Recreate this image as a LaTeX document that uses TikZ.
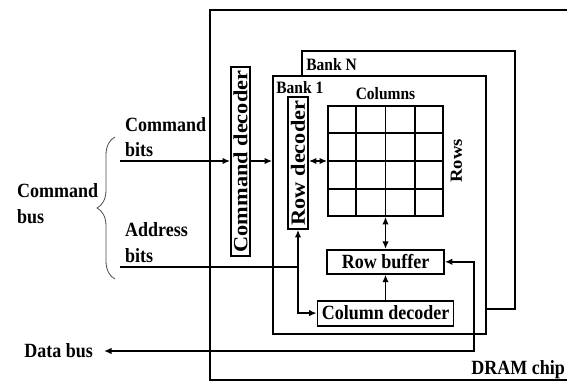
\documentclass[tikz,border=0pt]{standalone}
\usepackage{fontspec}
\setmainfont{Liberation Serif}
\usepackage{graphicx}
\usetikzlibrary{positioning,arrows.meta,calc,decorations.pathreplacing}
\newcommand{\chipfont}{\fontsize{18}{25.5}\selectfont\bfseries}
\newcommand{\bankfont}{\fontsize{15.5}{18}\selectfont\bfseries}
\newcommand{\tall}[1]{\scalebox{1}[1.12]{#1}}
\newcommand{\vstretch}[1]{\scalebox{1.24}[1.12]{#1}}
\tikzset{
  box/.style={draw, line width=1.8pt, inner sep=0pt, font=\chipfont},
  bank/.style={box, fill=white, minimum width=213pt, minimum height=258pt},
  lbl/.style={inner sep=0pt, align=left, font=\chipfont},
  sublbl/.style={inner sep=0pt, font=\bankfont},
  edge/.style={-{Latex[length=7.5pt,width=6.5pt]}, line width=1.8pt},
  biedge/.style={{Latex[length=7.5pt,width=6.5pt]}-{Latex[length=7.5pt,width=6.5pt]}, line width=1.8pt},
}
\begin{document}
\begin{tikzpicture}[x=1pt, y=-1pt]
  \useasboundingbox (0,0) rectangle (567,382);
  % chip outline (runs off the right edge)
  \node[box, minimum width=370pt, minimum height=370pt] (chip) at (395,195) {};
  \node[font=\chipfont, inner sep=0pt, anchor=base east] (chiplbl) at (565,374) {\tall{DRAM chip}};
  % banks
  \node[bank] (bankN) at (408.5,180) {};
  \node[bank] (bank1) at (379.5,205) {};
  \node[sublbl, below right=8.5pt and 5pt of bankN.north west] (bankNlbl) {\tall{Bank N}};
  \node[sublbl, below right=6.5pt and 4pt of bank1.north west] (bank1lbl) {\tall{Bank 1}};
  % decoders and array
  \node[box, minimum width=19pt, minimum height=189pt] (cmddec) at (240.5,161.5) {\rotatebox{90}{\vstretch{Command decoder}}};
  \node[box, minimum width=20pt, minimum height=132pt] (rowdec) at (298,163) {\rotatebox{90}{\vstretch{Row decoder}}};
  \node[box, minimum width=115pt, minimum height=110pt] (grid) at (385.5,161) {};
  \foreach \i in {1,2,3} {
    \draw[line width=1.8pt] ($(grid.north west)!\i/4!(grid.north east)$) -- ($(grid.south west)!\i/4!(grid.south east)$);
    \draw[line width=1.8pt] ($(grid.north west)!\i/4!(grid.south west)$) -- ($(grid.north east)!\i/4!(grid.south east)$);
  }
  \node[sublbl, above=5pt of grid] (colslbl) {\tall{Columns}};
  \node[sublbl, right=6.5pt of grid] (rowslbl) {\rotatebox{90}{\scalebox{1.2}[1.1]{Rows}}};
  \node[box, minimum width=117pt, minimum height=24pt, below=32pt of grid] (rowbuf) {\tall{Row buffer}};
  \node[box, minimum width=136pt, minimum height=25pt, below=25pt of rowbuf] (coldec) {\tall{Column decoder}};
  % bus labels
  \node[lbl, anchor=north west] (cmdbits) at (125,117) {\tall{Command}\\\tall{bits}};
  \node[lbl, anchor=north west] (addrbits) at (125,222.5) {\tall{Address}\\\tall{bits}};
  \node[lbl, anchor=north west] (cmdbus) at (17,183.5) {\tall{Command}\\\tall{bus}};
  \node[lbl, anchor=east, inner xsep=11pt] (databus) at (104,351) {\tall{Data bus}};
  \coordinate (bracetop) at (115,137);
  \coordinate (bracebot) at (115,279);
  \draw[line width=0.8pt, black!70, decorate, decoration={brace, amplitude=18pt}] (bracebot) -- (bracetop);
  % connectors
  \coordinate (cbin) at (120,161);
  \coordinate (abin) at (120,267);
  \coordinate (dbturn) at (474,351);
  \draw[edge] (cbin) -- (cbin -| cmddec.west);
  \draw[edge] (cbin -| cmddec.east) -- (cbin -| bank1.west);
  \draw[biedge] (grid.west -| rowdec.east) -- (grid.west);
  \draw[biedge] (grid.south) -- (rowbuf.north);
  \draw[edge] (coldec.north) -- (rowbuf.south);
  \draw[edge] (abin) -- (abin -| rowdec.south) -- (rowdec.south);
  \draw[edge] (abin -| rowdec.south) |- (coldec.west);
  \draw[biedge] (rowbuf.east) -| (dbturn) -- (databus.east);
\end{tikzpicture}
\end{document}
